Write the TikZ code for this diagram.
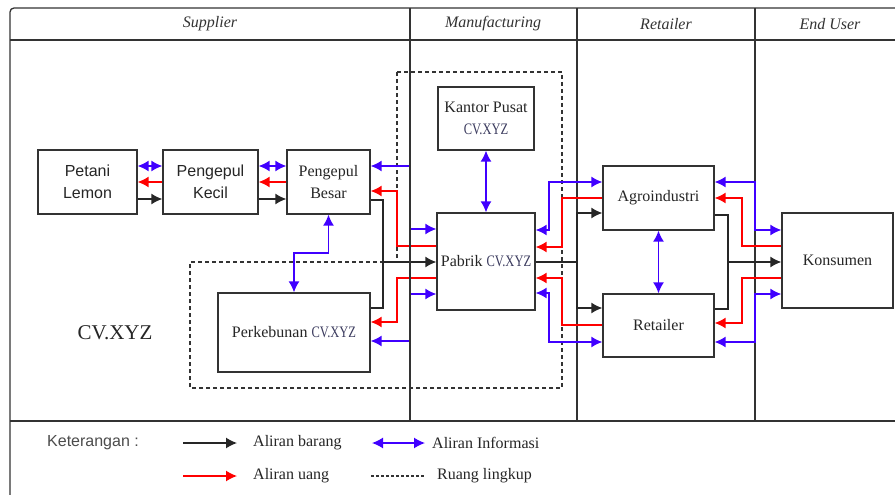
\documentclass[tikz,border=0pt]{standalone}
\usepackage{fontspec}
\setmainfont{Liberation Serif}
\setsansfont{Liberation Sans}
\newfontfamily\cvfont[FakeStretch=0.78]{Liberation Serif}
\usepackage{xcolor}
\usetikzlibrary{arrows.meta, calc, positioning}
\definecolor{infoblue}{RGB}{64,0,255}
\definecolor{uangred}{RGB}{255,0,0}
\definecolor{garis}{RGB}{51,51,51}
\definecolor{cvtext}{RGB}{60,60,95}
\newcommand{\cvxyz}{{\cvfont\color{cvtext}CV.XYZ}}
\tikzset{
  panah/.tip={Latex[length=11pt,width=11pt]},  % ujung panah
  % kotak pelaku rantai pasok
  kotak/.style={draw=garis,line width=1.3pt,inner sep=0pt,align=center,text=black!85,
    font=\fontsize{16}{22}\selectfont},
  kotak sans/.style={kotak,font=\sffamily\fontsize{16}{22}\selectfont},
  kepala/.style={font=\itshape\fontsize{16}{19}\selectfont,text=black!80},
  legenda/.style={anchor=west,inner sep=0pt,text=black!85,font=\fontsize{16}{19}\selectfont},
  kolom/.style={garis,line width=1.3pt},
  % aliran
  aliran barang/.style={-panah,draw=black!85,line width=1.4pt},
  aliran uang/.style={-panah,draw=uangred,line width=1.4pt},
  aliran info/.style={panah-panah,draw=infoblue,line width=1.4pt},
  ruang lingkup/.style={draw=black!80,line width=1.1pt,dash pattern=on 4pt off 3pt}
}

\begin{document}
\begin{tikzpicture}[x=1pt,y=-1pt]
  \useasboundingbox (0,0) rectangle (895,495);
  \clip (0,0) rectangle (895,495);
  \fill[white] (0,0) rectangle (895,495);

  \draw[kolom,rounded corners=4pt] (10,505) -- (10,8) -- (905,8);
  \draw[kolom] (10,40) -- (905,40);
  \draw[kolom] (10,421) -- (905,421);
  \foreach \x in {410,577,755}
    \draw[kolom] (\x,8) -- (\x,421);

  \node[kepala] (hsupplier) at (210,24) {Supplier};
  \node[kepala] (hmanuf) at (493,24) {Manufacturing};
  \node[kepala] (hretailer) at (666,24) {Retailer};
  \node[kepala] (henduser) at (830,24) {End User};

  \draw[ruang lingkup] (397,72) -- (562,72) -- (562,388) -- (190,388) -- (190,262) -- (397,262) -- cycle;

  \node[kotak sans,minimum width=99pt,minimum height=64pt] (petani) at (87.5,182) {Petani\\Lemon};
  \node[kotak sans,minimum width=95pt,minimum height=64pt] (kecil) at (210.5,182) {Pengepul\\Kecil};
  \node[kotak,minimum width=83pt,minimum height=64pt] (besar) at (328.5,182) {Pengepul\\Besar};
  \node[kotak,minimum width=96pt,minimum height=63pt] (kantor) at (486,118.5) {Kantor Pusat\\\cvxyz};
  \node[kotak,minimum width=98pt,minimum height=97pt] (pabrik) at (486,261.5) {Pabrik \cvxyz};
  \node[kotak,minimum width=152pt,minimum height=79pt] (perkebunan) at (294,332.5) {Perkebunan \cvxyz};
  \node[kotak,minimum width=111pt,minimum height=64pt] (agro) at (658.5,198) {Agroindustri};
  \node[kotak,minimum width=111pt,minimum height=63pt] (retailer) at (658.5,325.5) {Retailer};
  \node[kotak,minimum width=111pt,minimum height=95pt] (konsumen) at (837.5,260.5) {Konsumen};
  \node[font=\fontsize{21}{25}\selectfont,text=black!85] (cvlabel) at (115,333) {CV.XYZ};

  \foreach \a/\b in {petani/kecil,kecil/besar}{
    \draw[aliran info] (\a.east |- 0,166) -- (\b.west |- 0,166);
    \draw[aliran uang] (\b.west |- 0,182) -- (\a.east |- 0,182);
    \draw[aliran barang] (\a.east |- 0,199) -- (\b.west |- 0,199);
  }

  \draw[aliran info] (besar.east |- 0,166) -- (410,166) -- (410,229) -- (pabrik.west |- 0,229);
  \draw[aliran uang] (pabrik.west |- 0,246) -- (397,246) -- (397,191) -- (besar.east |- 0,191);
  \coordinate (jb) at (383,262);
  \draw[aliran barang,-] (besar.east |- 0,200) -| (jb);
  \draw[aliran barang,-] (perkebunan.east |- 0,308) -| (jb);
  \draw[aliran barang] (jb) -- (pabrik.west |- jb);
  \draw[aliran info] (besar.south) -- (besar.south |- 0,253) -| (perkebunan.north);
  \draw[aliran uang] (pabrik.west |- 0,278) -- (397,278) |- (perkebunan.east |- 0,322);
  \draw[aliran info] (pabrik.west |- 0,294) -- (410,294) |- (perkebunan.east |- 0,341);
  \draw[aliran info] (kantor.south) -- (pabrik.north);
  \draw[kolom] (410,8) -- (410,421);

  \draw[aliran info] (pabrik.east |- 0,230) -- (549,230) |- (agro.west |- 0,182);
  \draw[aliran uang] (agro.west |- 0,198) -- (562,198) |- (pabrik.east |- 0,247);
  \coordinate (jr) at (577,262);
  \draw[aliran barang,-] (pabrik.east |- jr) -- (jr);
  \draw[aliran barang] (jr) |- (agro.west |- 0,213);
  \draw[aliran barang] (jr) |- (retailer.west |- 0,308);
  \draw[aliran uang] (retailer.west |- 0,325) -- (562,325) |- (pabrik.east |- 0,278);
  \draw[aliran info] (pabrik.east |- 0,293) -- (549,293) |- (retailer.west |- 0,342);
  \draw[aliran info] (agro.south) -- (retailer.north);

  \draw[aliran info] (agro.east |- 0,182) -- (755,182) |- (konsumen.west |- 0,230);
  \draw[aliran uang] (konsumen.west |- 0,246) -- (742,246) |- (agro.east |- 0,198);
  \coordinate (jk) at (728,262);
  \draw[aliran barang,-] (agro.east |- 0,215) -| (jk);
  \draw[aliran barang,-] (retailer.east |- 0,309) -| (jk);
  \draw[aliran barang] (jk) -- (konsumen.west |- jk);
  \draw[aliran uang] (konsumen.west |- 0,278) -- (742,278) |- (retailer.east |- 0,323);
  \draw[aliran info] (konsumen.west |- 0,294) -- (755,294) |- (retailer.east |- 0,342);

  \node[legenda,font=\sffamily\fontsize{16}{19}\selectfont,text=black!70] (ket) at (47,443) {Keterangan :};
  \node[legenda] (lbarang) at (253,443) {Aliran barang};
  \draw[aliran barang] ($(lbarang.west)+(-70,0)$) -- ($(lbarang.west)+(-16,0)$);
  \node[legenda] (linfo) at (432,443) {Aliran Informasi};
  \draw[aliran info] ($(linfo.west)+(-60,0)$) -- ($(linfo.west)+(-7,0)$);
  \node[legenda] (luang) at (253,476) {Aliran uang};
  \draw[aliran uang] ($(luang.west)+(-70,0)$) -- ($(luang.west)+(-16,0)$);
  \node[legenda] (llingkup) at (437,476) {Ruang lingkup};
  \draw[ruang lingkup,line width=1.1pt,dash pattern=on 3pt off 2pt] ($(llingkup.west)+(-66,0)$) -- ($(llingkup.west)+(-12,0)$);
\end{tikzpicture}
\end{document}
